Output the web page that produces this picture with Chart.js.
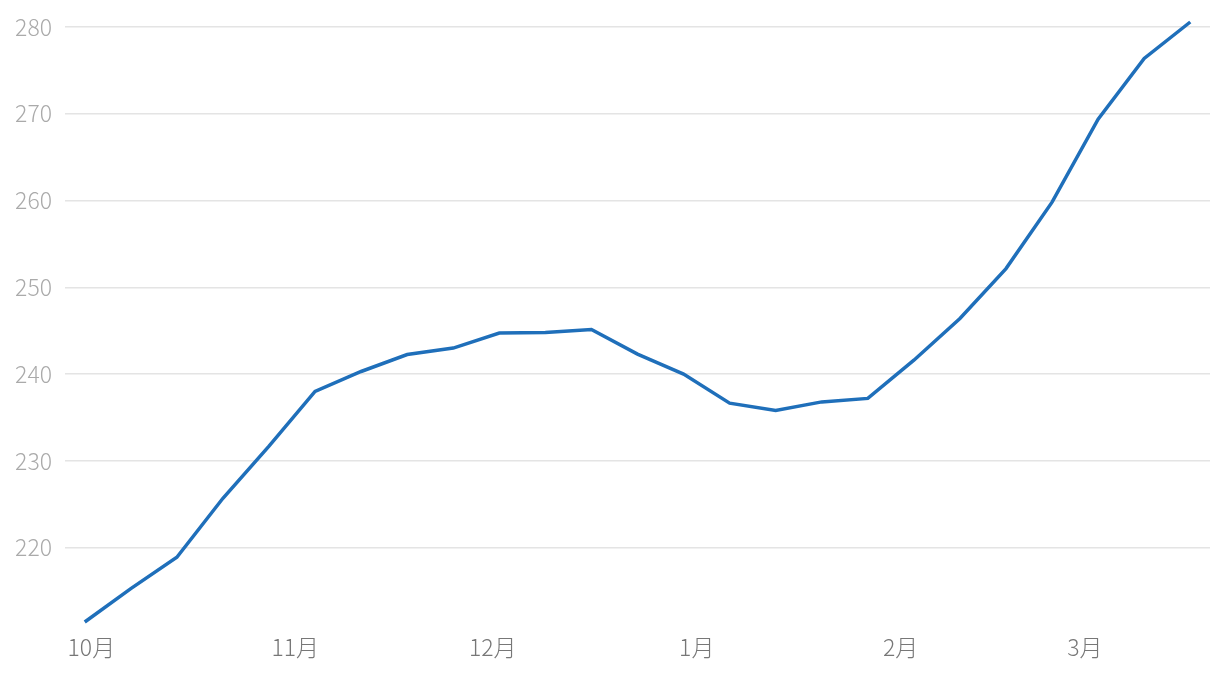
<!DOCTYPE html>
<html>
<head>
<meta charset="utf-8">
<script src="https://cdn.jsdelivr.net/npm/chart.js@4"></script>
<style>
  body { margin: 0; background: #fff; }
</style>
</head>
<body>
<canvas id="Canvas" width="1220" height="674"></canvas>
<script>
// weekly dates and values
const dates = ["2022-09-30", "2022-10-07", "2022-10-14", "2022-10-21", "2022-10-28",
  "2022-11-04", "2022-11-11", "2022-11-18", "2022-11-25", "2022-12-02",
  "2022-12-09", "2022-12-16", "2022-12-23", "2022-12-30", "2023-01-06",
  "2023-01-13", "2023-01-20", "2023-01-27", "2023-02-03", "2023-02-10",
  "2023-02-17", "2023-02-24", "2023-03-03", "2023-03-10", "2023-03-17"];
const values = [211.45, 215.3, 218.9, 225.7, 231.7, 238.0, 240.3, 242.25, 243.0, 244.73,
  244.78, 245.13, 242.3, 240.0, 236.65, 235.8, 236.8, 237.2, 241.6, 246.4,
  252.15, 259.8, 269.35, 276.35, 280.55];
const monthDates = ["2022-10-01", "2022-11-01", "2022-12-01", "2023-01-01", "2023-02-01", "2023-03-01"];
const monthLabels = ["10月", "11月", "12月", "1月", "2月", "3月"];

const origin = Date.parse("2022-10-01");
const toDay = s => (Date.parse(s) - origin) / 86400000;
const points = dates.map((d, i) => ({ x: toDay(d), y: values[i] }));
const monthDays = monthDates.map(toDay);

const font = { family: "'Noto Sans CJK JP', 'Noto Sans', sans-serif", size: 23, weight: 300 };

const ctx = document.getElementById("Canvas").getContext("2d");
const myChart = new Chart(ctx, {
  type: "line",
  data: {
    datasets: [{
      data: points,
      borderColor: "#1f6fba",
      borderWidth: 3.5,
      pointRadius: 0,
      tension: 0,
      fill: false,
      clip: false
    }]
  },
  options: {
    responsive: false,
    animation: false,
    layout: { padding: { top: 22, right: 10, left: 0, bottom: 0 } },
    plugins: { legend: { display: false }, tooltip: { enabled: false } },
    scales: {
      x: {
        type: "linear",
        min: toDay(dates[0]) - 3,
        max: toDay(dates[dates.length - 1]) + 3,
        grid: { display: false, drawTicks: false },
        border: { display: false },
        afterBuildTicks: s => { s.ticks = monthDays.map(v => ({ value: v })); },
        afterFit: s => { s.height = 52; s.paddingLeft = 0; s.paddingRight = 0; },
        ticks: {
          autoSkip: false,
          maxRotation: 0,
          padding: 11,
          color: "#777",
          font: font,
          callback: (v, i) => monthLabels[i]
        }
      },
      y: {
        min: Math.min(...values),
        max: Math.max(...values),
        grid: { color: "#e4e4e4", lineWidth: 1.5, drawTicks: false },
        border: { display: false },
        afterFit: s => { s.width = 65; s.paddingTop = 0; s.paddingBottom = 0; },
        ticks: {
          stepSize: 10,
          includeBounds: false,
          padding: 13,
          color: "#aaa",
          font: font
        }
      }
    }
  }
});
</script>
</body>
</html>
